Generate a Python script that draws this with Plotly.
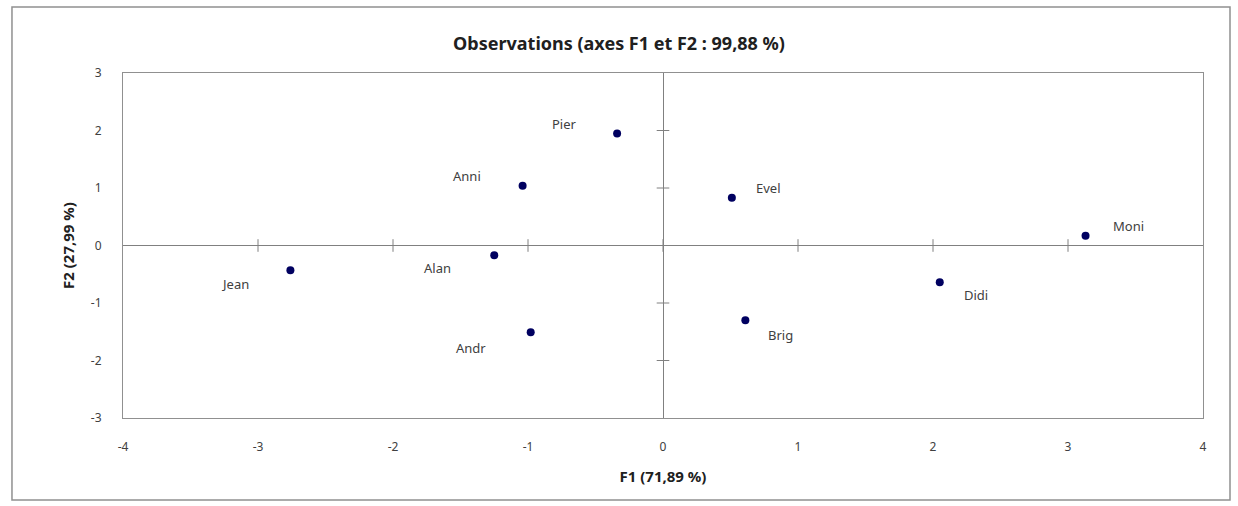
import plotly.graph_objects as go

names = ["Pier", "Anni", "Evel", "Moni", "Jean", "Alan", "Andr", "Brig", "Didi"]
f1 = [-0.34, -1.04, 0.51, 3.13, -2.76, -1.25, -0.98, 0.61, 2.05]
f2 = [1.95, 1.04, 0.83, 0.17, -0.43, -0.17, -1.51, -1.30, -0.64]

x_ticks = [-4, -3, -2, -1, 0, 1, 2, 3, 4]
y_ticks = [-3, -2, -1, 0, 1, 2, 3]
x_ticktext = ["-4", "-3", "-2", "-1", "0", "1", "2", "3", "4"]
y_ticktext = ["-3", "-2", "-1", "0", "1", "2", "3"]

title = "Observations (axes F1 et F2 : 99,88 %)"
x_title = "F1 (71,89 %)"
y_title = "F2 (27,99 %)"

# label offsets (pixels) per point
label_dx = [-53, -56, 37, 43, -55, -57, -60, 35, 36]
label_dy = [9, 10, 10, 10, -14, -13, -16, -15, -13]

font = "Noto Sans"
fig = go.Figure()

# tick marks on the zero axes
fig.add_trace(go.Scatter(
    x=[t for t in x_ticks if t not in (-4, 4)], y=[0] * 7,
    mode="markers", marker=dict(symbol="line-ns-open", size=9, color="#808080", line=dict(width=1, color="#808080")),
    hoverinfo="skip", showlegend=False))
fig.add_trace(go.Scatter(
    x=[0] * 5, y=[t for t in y_ticks if t not in (-3, 3)],
    mode="markers", marker=dict(symbol="line-ew-open", size=9, color="#808080", line=dict(width=1, color="#808080")),
    hoverinfo="skip", showlegend=False))

fig.add_trace(go.Scatter(
    x=f1, y=f2, mode="markers",
    marker=dict(size=8, color="#000060"),
    showlegend=False))

for n, x, y, dx, dy in zip(names, f1, f2, label_dx, label_dy):
    fig.add_annotation(x=x, y=y, text=n, showarrow=False, xshift=dx, yshift=dy,
                       font=dict(family=font, size=13, color="#404040"))

fig.update_layout(
    width=1238, height=506,
    margin=dict(l=123, r=35, t=73, b=88),
    paper_bgcolor="white", plot_bgcolor="white",
    title=dict(text="<b>" + title + "</b>", x=0.5, xanchor="center", y=0.913, yanchor="middle",
               font=dict(family=font, size=18, color="#202020")),
    font=dict(family=font, size=12, color="#404040"),
)
fig.update_xaxes(range=[-4, 4], tickvals=x_ticks, ticktext=x_ticktext, showgrid=False,
                 zeroline=True, zerolinecolor="#808080", zerolinewidth=1,
                 showline=True, linecolor="#909090", linewidth=1, mirror=True,
                 ticks="", ticklabelstandoff=18,
                 title=dict(text="<b>" + x_title + "</b>", font=dict(family=font, size=15, color="#202020"), standoff=17))
fig.update_yaxes(range=[-3, 3], tickvals=y_ticks, ticktext=y_ticktext, showgrid=False,
                 zeroline=True, zerolinecolor="#808080", zerolinewidth=1,
                 showline=True, linecolor="#909090", linewidth=1, mirror=True,
                 ticks="", ticklabelstandoff=18,
                 title=dict(text="<b>" + y_title + "</b>", font=dict(family=font, size=15, color="#202020"), standoff=12))

# outer chart border
fig.add_shape(type="rect", xref="paper", yref="paper",
              x0=-0.1028, x1=1.025, y0=-0.238, y1=1.191,
              line=dict(color="#909090", width=1.5), fillcolor="rgba(0,0,0,0)", layer="below")

fig.write_html("out.html")
